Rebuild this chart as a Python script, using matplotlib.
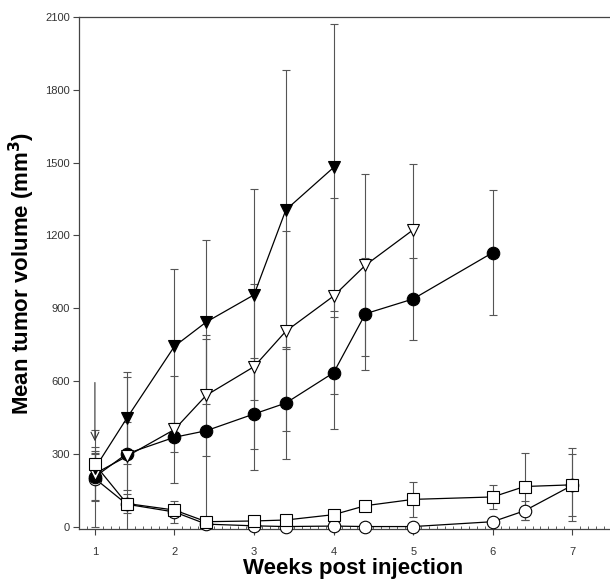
import matplotlib
matplotlib.use("Agg")
import matplotlib.pyplot as plt
from matplotlib.ticker import MultipleLocator

plt.rcParams['font.family'] = ['Liberation Sans', 'DejaVu Sans']

# weeks post injection (all time points)
weeks = [1, 1.4, 2, 2.4, 3, 3.4, 4, 4.4, 5, 6, 6.4, 7]

# filled down triangle (weeks 1 - 4)
tri_f_mean = [240, 446, 743, 843, 955, 1305, 1480]
tri_f_err = [60, 190, 318, 337, 435, 575, 590]

# open down triangle (weeks 1 - 5)
tri_o_mean = [218, 289, 400, 541, 659, 805, 950, 1077, 1223]
tri_o_err = [110, 140, 220, 250, 340, 413, 404, 376, 270]

# filled circle (weeks 1 - 6)
circ_f_mean = [205, 300, 368, 395, 464, 509, 634, 877, 938, 1129]
circ_f_err = [100, 318, 60, 380, 230, 232, 230, 230, 170, 258]

# open square (all weeks)
sq_mean = [256, 95, 68, 20, 23, 27, 49, 86, 112, 122, 165, 172]
sq_err = [55, 40, 15, 8, 8, 8, 8, 8, 72, 48, 138, 150]

# open circle (all weeks)
circ_o_mean = [198, 92, 60, 10, 3, 0, 2, 0, 0, 20, 65, 170]
circ_o_err = [198, 25, 45, 8, 5, 5, 5, 5, 5, 10, 40, 128]

yticks = [0, 300, 600, 900, 1200, 1500, 1800, 2100]
xticks = [1, 2, 3, 4, 5, 6, 7]

fig = plt.figure(figsize=(6.1, 5.82), dpi=100)
ax = fig.add_axes([0.1295, 0.0911, 0.90, 0.8797])

# drawing order: later entries sit on top
series = [
    (circ_o_mean, circ_o_err, 'o', 'white', 9),
    (circ_f_mean, circ_f_err, 'o', 'black', 9),
    (tri_o_mean, tri_o_err, 'v', 'white', 9),
    (tri_f_mean, tri_f_err, 'v', 'black', 9),
    (sq_mean, sq_err, 's', 'white', 8),
]

for mean, err, mk, fc, ms in series:
    x = weeks[:len(mean)]
    ax.errorbar(x, mean, yerr=err, fmt='none', ecolor='#555555',
                elinewidth=0.8, capsize=3, capthick=0.8, zorder=2)
    ax.plot(x, mean, color='black', lw=0.9, marker=mk, markersize=ms,
            markerfacecolor=fc, markeredgecolor='black', markeredgewidth=0.8,
            zorder=3, clip_on=False)

# injection arrow at week 1
ax.annotate('', xy=(1, 340), xytext=(1, 605),
            arrowprops=dict(arrowstyle='->', color='#333333', lw=0.8,
                            mutation_scale=14))

ax.set_xlim(0.8, 7.7)
ax.set_ylim(-10, 2100)
ax.set_xticks(xticks)
ax.set_yticks(yticks)
ax.xaxis.set_minor_locator(MultipleLocator(0.1))

for side in ['left', 'bottom', 'top']:
    ax.spines[side].set_color('#444444')
    ax.spines[side].set_linewidth(0.9)
ax.spines['right'].set_visible(False)

ax.tick_params(axis='both', which='major', labelsize=8, colors='#444444',
               labelcolor='#333333', length=4, width=0.8)
ax.tick_params(axis='x', which='major', pad=9)
ax.tick_params(axis='y', which='major', pad=2.5)
ax.tick_params(axis='x', which='minor', direction='in', length=2.5,
               width=0.6, colors='#444444')

ax.set_xlabel('Weeks post injection', fontsize=16, fontweight='bold',
              labelpad=1)
ax.set_ylabel(r'Mean tumor volume (mm$^\mathbf{3}$)', fontsize=16,
              fontweight='bold', labelpad=6)

fig.savefig('out.png', dpi=100)
